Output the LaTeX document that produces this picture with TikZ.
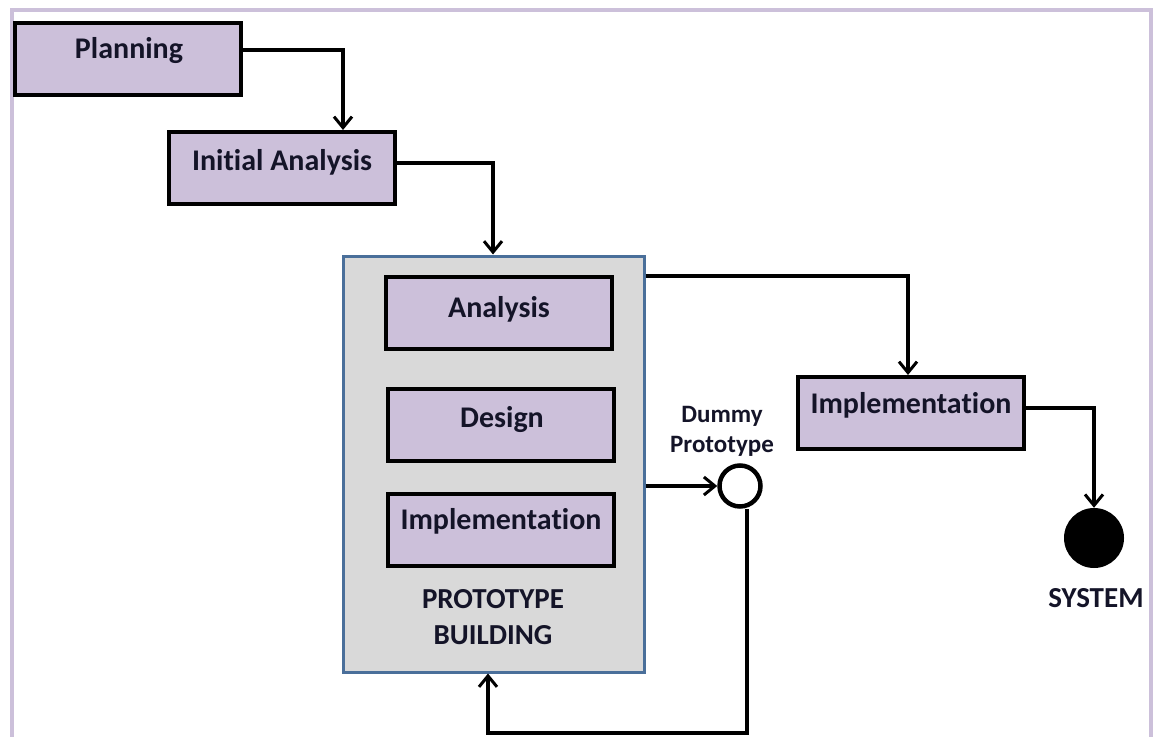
\documentclass[tikz,border=0pt]{standalone}
\usepackage{fontspec}
\setmainfont{Carlito}[Ligatures=NoCommon]
\usetikzlibrary{arrows.meta}
\definecolor{boxfill}{HTML}{CCC0DA}
\definecolor{framecol}{HTML}{CCC0DA}
\definecolor{pbfill}{HTML}{D9D9D9}
\definecolor{pbedge}{HTML}{4A6F9A}
\definecolor{txt}{HTML}{141428}
\tikzset{
  x=1pt, y=-1pt,
  stage/.style={draw=black, line width=4pt, fill=boxfill, minimum width=226pt,
    minimum height=72pt, inner sep=0pt},
  lbl/.style={font=\bfseries\fontsize{30}{36}\selectfont, text=txt, inner sep=0pt},
  small/.style={font=\bfseries\fontsize{25}{31}\selectfont, text=txt, inner sep=0pt, align=center},
  flow/.style={draw=black, line width=3.2pt, -{Straight Barb[length=11pt,width=18pt,line width=3pt]}},
}
\begin{document}
\begin{tikzpicture}
\useasboundingbox (0,0) rectangle (1158,736);
% page frame, open at the bottom
\draw[framecol, line width=4pt] (11.5,740) -- (11.5,9.5) -- (1150.5,9.5) -- (1150.5,740);

% outer stages
\node[stage] (plan) at (128,58.5) {};
\node[lbl, anchor=base] at (129,58) {Planning};
\node[stage] (init) at (281.5,168) {};
\node[lbl, anchor=base] at (282,170) {Initial Analysis};

% prototype building container
\node[draw=pbedge, line width=3pt, fill=pbfill, minimum width=301pt, minimum height=416pt,
  inner sep=0pt] (pb) at (493.5,464) {};
\node[stage] (ana) at (498.5,313) {};
\node[lbl, anchor=base] at (499,317) {Analysis};
\node[stage] (des) at (500.5,424.5) {};
\node[lbl, anchor=base] at (502,427) {Design};
\node[stage] (impin) at (500.5,529.5) {};
\node[lbl, anchor=base] at (501,529) {Implementation};
\node[lbl, font=\bfseries\fontsize{29}{36}\selectfont, anchor=base] (pbl1) at (493,608) {PROTOTYPE};
\node[lbl, font=\bfseries\fontsize{29}{36}\selectfont, anchor=base] (pbl2) at (493,644) {BUILDING};

% right-hand branch
\node[stage] (impl) at (910.5,413) {};
\node[lbl, anchor=base] at (911,413) {Implementation};
\node[circle, fill=black, minimum size=60pt, inner sep=0pt] (sys) at (1094,538) {};
\node[lbl, font=\bfseries\fontsize{29}{36}\selectfont, anchor=base] (syslbl) at (1096,607) {SYSTEM};

% dummy prototype
\node[circle, draw=black, line width=4.5pt, fill=white, minimum size=41pt, inner sep=0pt] (dum) at (740,486) {};
\node[small, anchor=base] (dum1) at (722,422) {Dummy};
\node[small, anchor=base] (dum2) at (722,452) {Prototype};

% connectors
\coordinate (k1) at (343,50);
\draw[flow] (plan.east |- k1) -| (init.north -| k1);
\coordinate (k2) at (493,163);
\draw[flow] (init.east |- k2) -| (pb.north -| k2);
\coordinate (k3) at (908,276);
\draw[flow] (pb.east |- k3) -| (impl.north -| k3);
\coordinate (k4) at (1094,408);
\draw[flow] (impl.east |- k4) -| (sys.north);
\draw[flow] (pb.east |- dum) -- (dum.west);
\coordinate (k5) at (747,733);
\coordinate (k6) at (488,733);
\draw[flow] (dum.south -| k5) -- (k5) -- (k6) -- (pb.south -| k6);
\end{tikzpicture}
\end{document}
